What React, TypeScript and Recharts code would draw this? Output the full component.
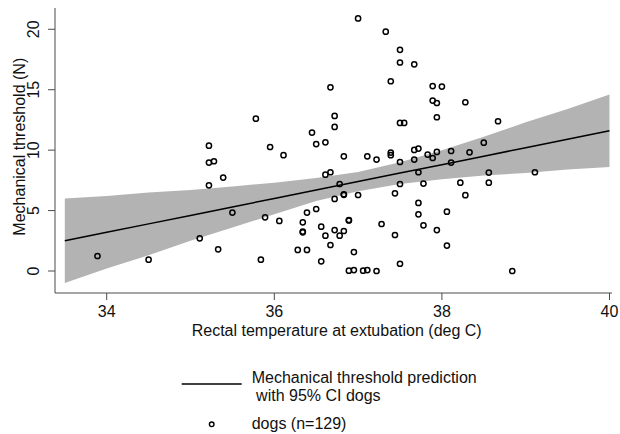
import { ComposedChart, Area, Line, Scatter, XAxis, YAxis, Legend } from 'recharts';

// rectal temperature (deg C) and mechanical threshold (N), one entry per visible dog marker
const tempC = [
  33.89, 34.5, 35.11, 35.22, 35.22, 35.28, 35.22, 35.39, 35.33, 35.5,
  35.78, 35.89, 35.84, 35.95, 36.06, 36.11, 36.28, 36.39, 36.34, 36.34,
  36.34, 36.39, 36.45, 36.5, 36.5, 36.56, 36.56, 36.61, 36.61, 36.61,
  36.67, 36.67, 36.67, 36.72, 36.72, 36.72, 36.72, 36.78, 36.78, 36.83,
  36.83, 36.83, 36.83, 36.89, 36.89, 36.89, 36.95, 36.95, 37.0, 37.0,
  37.06, 37.11, 37.11, 37.22, 37.22, 37.28, 37.33, 37.39, 37.39, 37.39,
  37.44, 37.44, 37.5, 37.5, 37.5, 37.5, 37.5, 37.5, 37.55, 37.67,
  37.67, 37.67, 37.72, 37.72, 37.72, 37.72, 37.78, 37.78, 37.83, 37.89,
  37.89, 37.89, 37.94, 37.94, 37.94, 37.94, 38.0, 38.06, 38.06, 38.11,
  38.11, 38.22, 38.28, 38.28, 38.33, 38.5, 38.56, 38.56, 38.67, 38.84,
  39.11,
];
const thresholdN = [
  1.24, 0.94, 2.7, 10.37, 8.97, 9.08, 7.09, 7.73, 1.79, 4.83,
  12.6, 4.44, 0.94, 10.26, 4.14, 9.58, 1.74, 1.74, 4.03, 3.26,
  3.2, 4.83, 11.45, 10.5, 5.13, 3.67, 0.8, 10.65, 7.97, 2.92,
  15.2, 8.17, 2.15, 12.83, 11.92, 5.96, 3.39, 7.2, 2.92, 9.49,
  6.35, 6.3, 3.31, 4.22, 4.18, 0.03, 1.57, 0.08, 20.9, 6.29,
  0.03, 9.49, 0.08, 9.22, 0.0, 3.89, 19.8, 15.7, 9.8, 9.58,
  6.43, 2.98, 18.3, 17.25, 12.25, 9.02, 7.2, 0.6, 12.25, 17.1,
  10.02, 9.22, 10.13, 8.17, 5.63, 4.69, 7.23, 3.78, 9.63, 15.3,
  14.1, 9.35, 13.9, 12.72, 9.85, 3.39, 15.26, 4.91, 2.1, 9.93,
  8.97, 7.31, 13.96, 6.27, 9.82, 10.62, 8.14, 7.31, 12.39, 0.0,
  8.17,
];

// prediction line and 95% CI band
const fitTemp = [33.5, 34, 34.5, 35, 35.5, 36, 36.5, 37, 37.5, 38, 38.5, 39, 39.5, 40];
const fitN = [2.5, 3.2, 3.9, 4.6, 5.3, 6.0, 6.7, 7.4, 8.1, 8.8, 9.5, 10.2, 10.9, 11.6];
const ciLow = [-1.0, 0.2, 1.3, 2.5, 3.6, 4.7, 5.8, 6.6, 7.2, 7.6, 7.9, 8.1, 8.4, 8.6];
const ciHigh = [6.0, 6.2, 6.5, 6.7, 7.0, 7.3, 7.7, 8.2, 9.0, 10.0, 11.1, 12.3, 13.4, 14.6];

const xTicks = [34, 36, 38, 40];
const yTicks = [0, 5, 10, 15, 20];

const FONT = '"Liberation Sans", Arial, sans-serif';
const INK = '#111';
const AXIS = '#4a4a4a';

const dogs = tempC.map((x, i) => ({ x, y: thresholdN[i] }));
const fit = fitTemp.map((x, i) => ({ x, fit: fitN[i], ci: [ciLow[i], ciHigh[i]] }));

function OpenDot(props: any) {
  const { cx, cy } = props;
  if (cx == null || cy == null) return null;
  return <circle cx={cx} cy={cy} r={2.6} fill="none" stroke="#000" strokeWidth={1.5} />;
}

function YTick(props: any) {
  const { x, y, payload } = props;
  return (
    <text x={x} y={y} transform={`rotate(-90 ${x} ${y})`} textAnchor="middle" fontSize={16} fontFamily={FONT} fill={INK}>
      {payload.value}
    </text>
  );
}

function LegendBox() {
  return (
    <svg width={320} height={74} style={{ display: 'block' }} fontFamily={FONT} fontSize={16} fill={INK}>
      <line x1={11.7} x2={71.7} y1={24} y2={24} stroke="#000" strokeWidth={1.5} />
      <text x={81.7} y={22.5}>Mechanical threshold prediction</text>
      <text x={86.1} y={40.5}>with 95% CI dogs</text>
      <circle cx={41.7} cy={64.3} r={2.3} fill="none" stroke="#000" strokeWidth={1.4} />
      <text x={81.7} y={69.3}>dogs (n=129)</text>
    </svg>
  );
}

export default function App() {
  return (
    <div style={{ position: 'absolute', left: 0, top: 0, width: 620, height: 434, background: '#fff' }}>
      <ComposedChart width={620} height={434} data={fit} margin={{ top: 8, right: 8, bottom: 101, left: 10 }}>
        <XAxis
          dataKey="x" type="number" domain={[33.383, 40.03]} ticks={xTicks} allowDataOverflow
          height={40} tickSize={7} tickMargin={6} stroke={AXIS}
          tick={{ fill: INK, fontSize: 16, fontFamily: FONT }}
          label={() => (
            <text x={336.7} y={335.7} textAnchor="middle" fontSize={16} fontFamily={FONT} fill={INK}>
              Rectal temperature at extubation (deg C)
            </text>
          )}
        />
        <YAxis
          type="number" domain={[-1.82, 21.76]} ticks={yTicks} allowDataOverflow
          width={45} tickSize={7} tickMargin={8.5} stroke={AXIS} tick={<YTick />}
          label={() => (
            <text x={24.8} y={146.7} transform="rotate(-90 24.8 146.7)" textAnchor="middle" fontSize={16} fontFamily={FONT} fill={INK}>
              Mechanical threshold (N)
            </text>
          )}
        />
        <Area dataKey="ci" type="linear" stroke="none" fill="#b3b3b3" fillOpacity={1} activeDot={false} isAnimationActive={false} />
        <Line dataKey="fit" type="linear" stroke="#000" strokeWidth={1.5} dot={false} activeDot={false} isAnimationActive={false} />
        <Scatter data={dogs} dataKey="y" shape={<OpenDot />} isAnimationActive={false} />
        <Legend
          layout="vertical" align="center" verticalAlign="middle"
          wrapperStyle={{ top: 360, left: 170, width: 320, height: 74 }}
          content={() => <LegendBox />}
        />
      </ComposedChart>
    </div>
  );
}
